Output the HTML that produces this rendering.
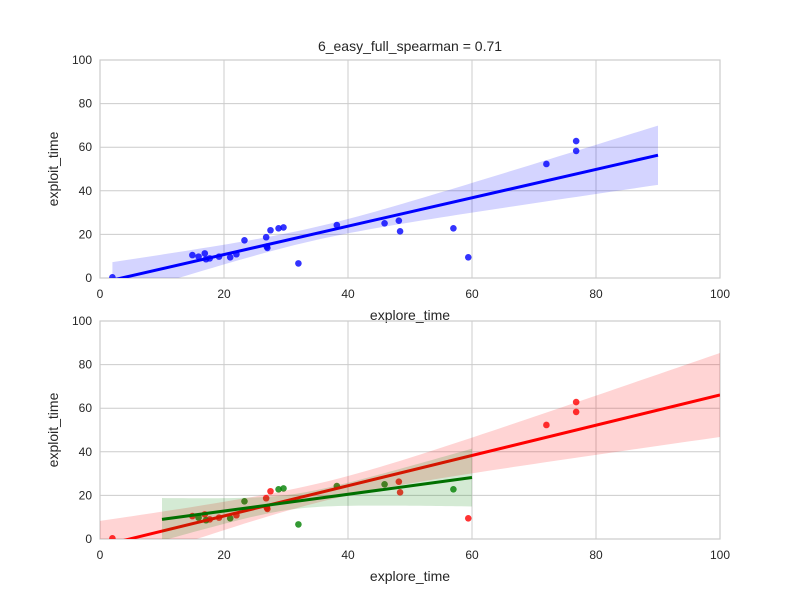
<!DOCTYPE html>
<html><head><meta charset="utf-8"><style>
body{margin:0;background:#fff;font-family:"Liberation Sans",sans-serif}
svg text{font-family:"Liberation Sans",sans-serif;fill:#262626}
</style></head><body>
<svg id="chart" width="800" height="600"></svg>
<script>
const allX=[2,14.9,15.9,16.9,17.1,17.7,19.2,21,22,23.3,26.8,26.9,27,27.5,28.8,29.6,32,38.2,45.9,48.2,48.4,57,59.4,72,76.8,76.8];
const allY=[0.3,10.5,9.8,11.3,8.6,9,9.8,9.5,10.9,17.3,18.7,14.4,13.8,21.9,22.8,23.2,6.7,24.3,25.1,26.3,21.4,22.8,9.5,52.3,62.8,58.3];
const redX=[2,14.9,16.9,17.7,19.2,22,26.8,26.9,27,27.5,48.2,48.4,59.4,72,76.8,76.8];
const redY=[0.3,10.5,11.3,9,9.8,10.9,18.7,14.4,13.8,21.9,26.3,21.4,9.5,52.3,62.8,58.3];
const greenX=[15.9,17.1,21,23.3,28.8,29.6,32,38.2,45.9,57];
const greenY=[9.8,8.6,9.5,17.3,22.8,23.2,6.7,24.3,25.1,22.8];
const xTicks=[0,20,40,60,80,100];
const yTicks=[0,20,40,60,80,100];
const NS="http://www.w3.org/2000/svg";
const svg=document.getElementById('chart');
function mk(tag,attrs,parent){const e=document.createElementNS(NS,tag);for(const k in attrs)e.setAttribute(k,attrs[k]);(parent||svg).appendChild(e);return e;}
function fit(xs,ys){const n=xs.length;const mx=xs.reduce((a,b)=>a+b)/n,my=ys.reduce((a,b)=>a+b)/n;let sxx=0,sxy=0;for(let i=0;i<n;i++){sxx+=(xs[i]-mx)**2;sxy+=(xs[i]-mx)*(ys[i]-my);}const b=sxy/sxx,a=my-b*mx;let ss=0;for(let i=0;i<n;i++)ss+=(ys[i]-a-b*xs[i])**2;const s=Math.sqrt(ss/(n-2));return{a,b,s,n,mx,sxx};}
function panel(top,name,groups,title){
  const L=100,R=720,T=top,B=top+218;
  const X=v=>L+(v/100)*(R-L),Y=v=>B-(v/100)*(B-T);
  const g=mk('g',{});
  const cp='cp'+top;const d=mk('clipPath',{id:cp},g);mk('rect',{x:L,y:T,width:R-L,height:B-T},d);
  xTicks.forEach(t=>{const l=mk('line',{x1:X(t),x2:X(t),y1:T,y2:B,stroke:'#cccccc','stroke-width':1},g);
    const tx=mk('text',{x:X(t),y:B+20,'text-anchor':'middle','font-size':12},g);tx.textContent=t;});
  yTicks.forEach(t=>{const l=mk('line',{x1:L,x2:R,y1:Y(t),y2:Y(t),stroke:'#cccccc','stroke-width':1},g);
    const tx=mk('text',{x:L-8,y:Y(t)+4,'text-anchor':'end','font-size':12},g);tx.textContent=t;});
  const fr=mk('rect',{x:L,y:T,width:R-L,height:B-T,fill:'none',stroke:'#cccccc','stroke-width':1.2},g);
  const cg=mk('g',{'clip-path':'url(#'+cp+')'},g);
  groups.forEach(gr=>{
    gr.xs.forEach((x,i)=>{const c=mk('circle',{cx:X(x),cy:Y(gr.ys[i]),r:3.3,fill:gr.pt,'fill-opacity':0.8},cg);});
  });
  groups.forEach(gr=>{
    const f=fit(gr.xs,gr.ys);let up=[],lo=[];
    for(let k=0;k<=60;k++){const x=gr.x0+(gr.x1-gr.x0)*k/60;const yh=f.a+f.b*x;const se=2.9*f.s*Math.sqrt(0.4/f.n+(x-f.mx)**2/f.sxx);up.push(X(x)+','+Y(yh+se));lo.unshift(X(x)+','+Y(yh-se));}
    const p=mk('polygon',{points:up.concat(lo).join(' '),fill:gr.band,'fill-opacity':0.17},cg);
    const l=mk('line',{x1:X(gr.x0),y1:Y(f.a+f.b*gr.x0),x2:X(gr.x1),y2:Y(f.a+f.b*gr.x1),stroke:gr.line,'stroke-width':3},cg);
  });
  const xl=mk('text',{x:(L+R)/2,y:B+42,'text-anchor':'middle','font-size':14},g);xl.textContent='explore_time';
  const yl=mk('text',{x:0,y:0,'text-anchor':'middle','font-size':14,transform:`translate(58,${(T+B)/2}) rotate(-90)`},g);yl.textContent='exploit_time';
  if(title){const t=mk('text',{x:(L+R)/2,y:T-9,'text-anchor':'middle','font-size':14},g);t.textContent=title;}
}
panel(60,'top-panel',[{id:'all',xs:allX,ys:allY,x0:2,x1:90,pt:'#0000ff',band:'#0000ff',line:'#0000ff'}],'6_easy_full_spearman = 0.71');
panel(321,'bottom-panel',[{id:'red',xs:redX,ys:redY,x0:0,x1:100,pt:'#ff0000',band:'#ff0000',line:'#ff0000'},{id:'green',xs:greenX,ys:greenY,x0:10,x1:60,pt:'#008000',band:'#008000',line:'#007000'}],null);
</script>
</body></html>
